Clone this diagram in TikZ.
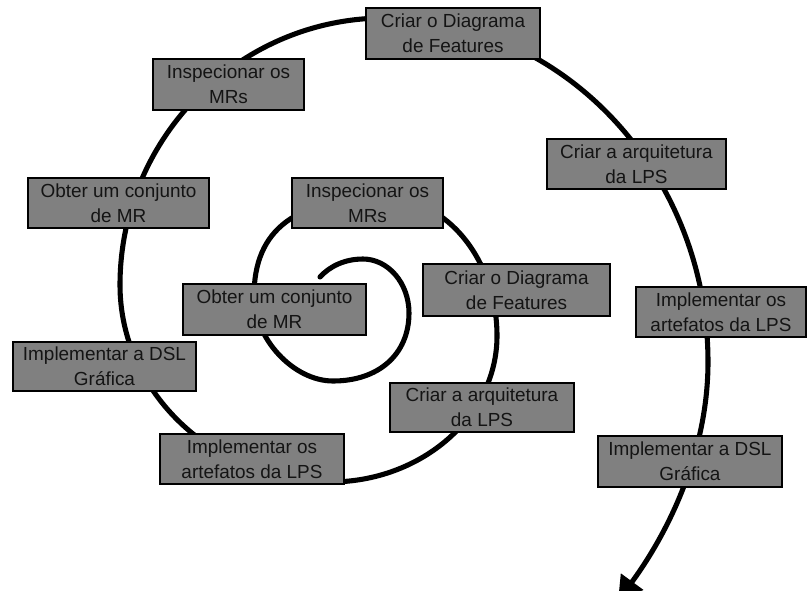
\documentclass[tikz,border=0pt]{standalone}
\usepackage{fontspec}
\setmainfont{Liberation Sans}
\usetikzlibrary{arrows.meta}
\definecolor{stagefill}{RGB}{128,128,128}
\definecolor{stagetext}{RGB}{20,20,20}
\tikzset{
  stage/.style={draw=black, line width=0.9pt, fill=stagefill, text=stagetext,
    inner sep=0pt, align=center,
    font=\fontsize{14.2}{18.8}\selectfont},
  stage size/.style 2 args={minimum width=#1*0.75pt, minimum height=#2*0.75pt},
  spiral/.style={line width=3.8pt, line cap=round,
    -{Triangle[length=18pt,width=20pt]}}
}
\begin{document}
\begin{tikzpicture}[x=0.75pt, y=-0.75pt]
\useasboundingbox (0,0) rectangle (807,590);

% turning points of the spiral (extremes of each quarter turn)
\coordinate (s0) at (320,277);
\coordinate (t0) at (363,259);
\coordinate (r0) at (409,313);
\coordinate (b0) at (333,381);
\coordinate (l1) at (254,296);
\coordinate (t1) at (385,198);
\coordinate (r1) at (497,336);
\coordinate (b1) at (330,482);
\coordinate (l2) at (120,285);
\coordinate (t2) at (385,18);
\coordinate (r2) at (708,362);
\coordinate (e0) at (618,601);

% the process spiral, from the centre outwards
\draw[spiral] (s0)
  .. controls (330,266) and (345,259) .. (t0)
  .. controls (388,259) and (409,283) .. (r0)
  .. controls (409,354) and (379,381) .. (b0)
  .. controls (293.5,381) and (254,338.5) .. (l1)
  .. controls (254,229) and (296,198) .. (t1)
  .. controls (447,198) and (497,260) .. (r1)
  .. controls (497,416) and (422,482) .. (b1)
  .. controls (214.5,482) and (120,393) .. (l2)
  .. controls (120,138) and (239,18) .. (t2)
  .. controls (563,18) and (708,173) .. (r2)
  .. controls (708,450) and (670,530) .. (e0);

% outer turn
\node[stage, stage size={174}{51}] (diagA) at (453,33.5) {Criar o Diagrama\\de Features};
\node[stage, stage size={151}{51}] (inspA) at (228.5,84.5) {Inspecionar os\\MRs};
\node[stage, stage size={179}{50}] (arqA) at (636.5,164) {Criar a arquitetura\\da LPS};
\node[stage, stage size={181}{50}] (obterA) at (118.5,203) {Obter um conjunto\\de MR};
\node[stage, stage size={170}{50}] (artA) at (721,312) {Implementar os\\artefatos da LPS};
\node[stage, stage size={183}{49}] (dslA) at (104.5,366.5) {Implementar a DSL\\Gráfica};
\node[stage, stage size={184}{51}] (dslB) at (690,461.5) {Implementar a DSL\\Gráfica};

% inner turn
\node[stage, stage size={151}{50}] (inspB) at (367.5,203) {Inspecionar os\\MRs};
\node[stage, stage size={187}{52}] (diagB) at (516.5,290) {Criar o Diagrama\\de Features};
\node[stage, stage size={183}{51}] (obterB) at (274.5,309.5) {Obter um conjunto\\de MR};
\node[stage, stage size={184}{49}] (arqB) at (482,407.5) {Criar a arquitetura\\da LPS};
\node[stage, stage size={184}{50}] (artB) at (252,459) {Implementar os\\artefatos da LPS};
\end{tikzpicture}
\end{document}
